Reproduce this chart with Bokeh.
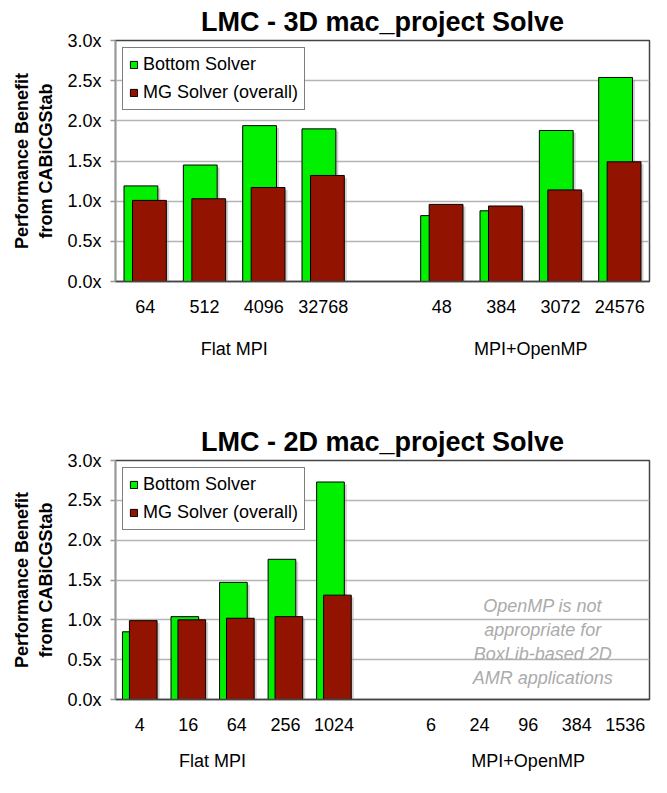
from bokeh.plotting import figure
from bokeh.models import (Range1d, FixedTicker, PrintfTickFormatter, Legend,
                          LegendItem, LinearAxis)
from bokeh.layouts import column
from bokeh.embed import file_html
from bokeh.resources import INLINE
from bokeh.core.properties import value

FONT = "Liberation Sans"
GREEN = "#00f000"
RED = "#921300"

# ---------------- data ----------------
series_names = ["Bottom Solver", "MG Solver (overall)"]
group_names = ["Flat MPI", "MPI+OpenMP"]
y_ticks = [0, 0.5, 1.0, 1.5, 2.0, 2.5, 3.0]

c1_title = "LMC - 3D mac_project Solve"
c1_flat_cats = ["64", "512", "4096", "32768"]
c1_omp_cats = ["48", "384", "3072", "24576"]
c1_bottom = [1.19, 1.45, 1.94, 1.90, 0.82, 0.88, 1.88, 2.54]
c1_mg = [1.01, 1.03, 1.17, 1.32, 0.96, 0.94, 1.14, 1.49]
c1_group_centers = [1.5, 6.5]

c2_title = "LMC - 2D mac_project Solve"
c2_flat_cats = ["4", "16", "64", "256", "1024"]
c2_omp_cats = ["6", "24", "96", "384", "1536"]
c2_bottom = [0.85, 1.04, 1.47, 1.76, 2.73]
c2_mg = [0.99, 1.00, 1.02, 1.04, 1.31]
c2_group_centers = [1.5, 8.0]
c2_note = "OpenMP is not\nappropriate for\nBoxLib-based 2D\nAMR applications"


def make_chart(title, flat, omp, bvals, mvals, centers, height, bottom_border,
               group_standoff, note=None):
    positions = list(range(len(flat))) + [len(flat) + 1 + i for i in range(len(omp))]
    labels = flat + omp
    n_slots = len(flat) + len(omp) + 1
    frame_w = 651 - 115 - 2
    frame_h = height - 35 - bottom_border
    px_x = n_slots / frame_w      # data units per pixel (x)
    px_y = 3.0 / frame_h          # data units per pixel (y)

    p = figure(width=651, height=height,
               x_range=Range1d(-0.5, n_slots - 0.5), y_range=Range1d(0, 3),
               min_border_left=115, min_border_right=2, min_border_top=35,
               min_border_bottom=bottom_border,
               toolbar_location=None, output_backend="svg")
    p.background_fill_color = "white"
    p.border_fill_color = "white"
    p.outline_line_color = "#444444"
    p.outline_line_width = 1.5

    p.title.text = title
    p.title.text_font = FONT
    p.title.text_font_size = "27px"
    p.title.text_font_style = "bold"
    p.title.text_color = "#000000"
    p.title.align = "center"
    p.title.standoff = 8

    p.xgrid.grid_line_color = None
    p.ygrid.ticker = FixedTicker(ticks=y_ticks)
    p.ygrid.grid_line_color = "#b4b4b4"
    p.ygrid.grid_line_width = 1.5

    d = 0.0715
    w = 0.57
    xs = positions[:len(bvals)]
    # soft drop shadows
    sh = 2.5
    p.vbar(x=[x - d + sh * px_x for x in xs], top=[v - sh * px_y for v in bvals],
           bottom=0, width=w, fill_color="#9a9a9a", fill_alpha=0.45, line_color=None)
    p.vbar(x=[x + d + sh * px_x for x in xs], top=[v - sh * px_y for v in mvals],
           bottom=0, width=w, fill_color="#9a9a9a", fill_alpha=0.45, line_color=None)
    r1 = p.vbar(x=[x - d for x in xs], top=bvals, bottom=0, width=w,
                fill_color=GREEN, line_color="black", line_width=1)
    r2 = p.vbar(x=[x + d for x in xs], top=mvals, bottom=0, width=w,
                fill_color=RED, line_color="black", line_width=1)

    # y axis
    ya = p.yaxis[0]
    ya.ticker = FixedTicker(ticks=y_ticks)
    ya.formatter = PrintfTickFormatter(format="%.1fx")
    ya.major_label_text_font = FONT
    ya.major_label_text_font_size = "18px"
    ya.major_label_text_color = "#000000"
    ya.axis_line_color = "#999999"
    ya.axis_line_width = 1.5
    ya.major_tick_line_color = "#999999"
    ya.major_tick_line_width = 1.5
    ya.major_tick_out = 5
    ya.major_tick_in = 0
    ya.minor_tick_line_color = None
    ya.major_label_standoff = 9
    ya.axis_label = "Performance Benefit\nfrom CABiCGStab"
    ya.axis_label_text_font = FONT
    ya.axis_label_text_font_size = "18px"
    ya.axis_label_text_font_style = "bold"
    ya.axis_label_text_color = "#000000"
    ya.axis_label_standoff = 8

    # x axis (category labels)
    xa = p.xaxis[0]
    xa.ticker = FixedTicker(ticks=positions)
    xa.major_label_overrides = {pp: lab for pp, lab in zip(positions, labels)}
    xa.major_label_text_font = FONT
    xa.major_label_text_font_size = "18px"
    xa.major_label_text_color = "#000000"
    xa.axis_line_color = "#444444"
    xa.axis_line_width = 1.5
    xa.major_tick_line_color = None
    xa.minor_tick_line_color = None
    xa.major_tick_out = 0
    xa.major_tick_in = 0
    xa.major_label_standoff = 18

    # second axis for group labels
    ga = LinearAxis(ticker=FixedTicker(ticks=centers))
    ga.major_label_overrides = {c: n for c, n in zip(centers, group_names)}
    ga.major_label_text_font = FONT
    ga.major_label_text_font_size = "18px"
    ga.major_label_text_color = "#000000"
    ga.axis_line_color = None
    ga.major_tick_line_color = None
    ga.minor_tick_line_color = None
    ga.major_tick_out = 0
    ga.major_tick_in = 0
    ga.major_label_standoff = group_standoff
    p.add_layout(ga, "below")

    if note is not None:
        p.text(x=[8.3], y=[0.72], text=[note], text_font=value(FONT),
               text_font_size="18px", text_font_style="italic",
               text_color="#ababab", text_align="center",
               text_baseline="middle", text_line_height=1.2)

    legend = Legend(items=[LegendItem(label=series_names[0], renderers=[r1]),
                           LegendItem(label=series_names[1], renderers=[r2])],
                    location="top_left", margin=7)
    legend.border_line_color = "black"
    legend.border_line_width = 1
    legend.background_fill_color = "white"
    legend.background_fill_alpha = 1
    legend.label_text_font = FONT
    legend.label_text_font_size = "18px"
    legend.label_text_color = "#000000"
    legend.glyph_width = 9
    legend.glyph_height = 9
    legend.label_standoff = 5
    legend.padding = 6
    legend.spacing = 7
    legend.label_height = 20
    p.add_layout(legend, "center")
    return p


p1 = make_chart(c1_title, c1_flat_cats, c1_omp_cats, c1_bottom, c1_mg,
                c1_group_centers, 420, 139, 23)
p2 = make_chart(c2_title, c2_flat_cats, c2_omp_cats, c2_bottom, c2_mg,
                c2_group_centers, 357, 78, 17, note=c2_note)

layout = column(p1, p2)
open("out.html", "w").write(file_html(layout, INLINE))
